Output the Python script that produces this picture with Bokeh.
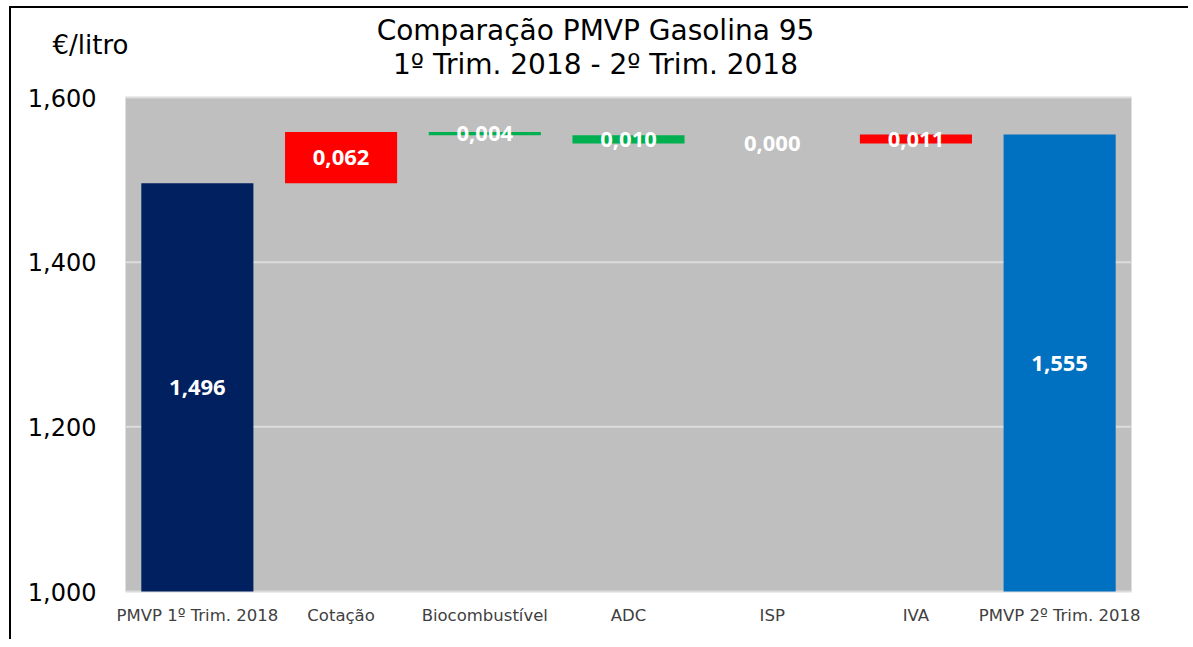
from bokeh.plotting import figure
from bokeh.models import ColumnDataSource, FixedTicker, Label, Range1d
from bokeh.core.properties import value
from bokeh.embed import file_html
from bokeh.resources import INLINE

# ---- data ----
categories = ["PMVP 1º Trim. 2018", "Cotação", "Biocombustível", "ADC", "ISP", "IVA", "PMVP 2º Trim. 2018"]
changes = [1.496, 0.062, -0.004, -0.010, 0.000, 0.011, 1.555]
kinds = ["start", "delta", "delta", "delta", "delta", "delta", "end"]
y_ticks = [1.0, 1.2, 1.4, 1.6]
title_line1 = "Comparação PMVP Gasolina 95"
title_line2 = "1º Trim. 2018 - 2º Trim. 2018"
unit_label = "€/litro"

# ---- waterfall geometry from data ----
xs = list(range(len(categories)))
bottoms, tops, colors, labels, mids = [], [], [], [], []
run = 0.0
axis_start = y_ticks[0]
for k, c in zip(kinds, changes):
    if k == "start":
        b, t = axis_start, c
        run = c
        col = "#002060"
    elif k == "end":
        b, t = axis_start, c
        col = "#0070C0"
    else:
        b, t = run, run + c
        run = run + c
        col = "#FF0000" if c > 0 else "#00B050"
    lo, hi = min(b, t), max(b, t)
    bottoms.append(lo)
    tops.append(hi)
    colors.append(col)
    mids.append((lo + hi) / 2)
    labels.append(f"{abs(c):.3f}".replace(".", ","))

src = ColumnDataSource(dict(x=xs, bottom=bottoms, top=tops, color=colors,
                            mid=mids, label=labels))

# plot area (grey) spans categories -0.5 .. n-0.5 ; extra room around it for texts
n = len(categories)
px_per_cat = 1006 / n
px_per_unit = 494 / (y_ticks[-1] - y_ticks[0])
x_left = -0.5 - 114 / px_per_cat
x_right = n - 0.5 + 36 / px_per_cat
y_top = y_ticks[-1] + 89 / px_per_unit
y_bottom = y_ticks[0] - 48 / px_per_unit

p = figure(x_range=Range1d(x_left, x_right), y_range=Range1d(y_bottom, y_top),
           frame_width=1156, frame_height=631,
           min_border_left=0, min_border_top=0, min_border_right=21, min_border_bottom=0,
           output_backend="svg", toolbar_location=None)
p.styles = {"border-top": "2px solid black", "border-left": "2px solid black",
            "margin-top": "6px", "margin-left": "9px"}

p.background_fill_color = "white"
p.border_fill_color = "white"
p.outline_line_color = None
p.xgrid.grid_line_color = None
p.ygrid.grid_line_color = None

# grey plot area
p.quad(left=[-0.5], right=[n - 0.5], bottom=[y_ticks[0]], top=[y_ticks[-1]],
       fill_color="#BFBFBF", line_color=None)
# gridlines
p.segment(x0=[-0.5] * len(y_ticks), x1=[n - 0.5] * len(y_ticks), y0=y_ticks, y1=y_ticks,
          line_color="#DCDCDC", line_width=2)

p.vbar(x="x", bottom="bottom", top="top", width=0.78, fill_color="color",
       line_color=None, source=src)
p.text(x="x", y="mid", text="label", source=src, text_color="white",
       text_font=value("Open Sans"), text_font_style="bold", text_font_size="22px",
       text_align="center", text_baseline="middle")

# y axis
p.yaxis.fixed_location = -0.5
p.yaxis.ticker = FixedTicker(ticks=y_ticks)
p.yaxis.major_label_overrides = {t: f"{t:.3f}".replace(".", ",") for t in y_ticks}
p.yaxis.major_label_text_font = "DejaVu Sans"
p.yaxis.major_label_text_font_size = "24px"
p.yaxis.major_label_text_color = "#000000"
p.yaxis.major_label_standoff = 23
p.yaxis.axis_line_color = None
p.yaxis.major_tick_line_color = None
p.yaxis.minor_tick_line_color = None

# x axis
p.xaxis.fixed_location = y_ticks[0]
p.xaxis.ticker = FixedTicker(ticks=xs)
p.xaxis.major_label_overrides = {i: c for i, c in zip(xs, categories)}
p.xaxis.major_label_text_font = "DejaVu Sans"
p.xaxis.major_label_text_font_size = "16.5px"
p.xaxis.major_label_text_color = "#404040"
p.xaxis.major_label_standoff = 8
p.xaxis.axis_line_color = None
p.xaxis.major_tick_line_color = None
p.xaxis.minor_tick_line_color = None

# titles (screen units relative to the frame: x from left, y from bottom)
p.add_layout(Label(x=584, y=609, x_units="screen", y_units="screen",
                   text=title_line1, text_font="DejaVu Sans",
                   text_font_size="28px", text_align="center", text_baseline="middle",
                   text_color="#000000"))
p.add_layout(Label(x=584, y=575, x_units="screen", y_units="screen",
                   text=title_line2, text_font="DejaVu Sans",
                   text_font_size="28px", text_align="center", text_baseline="middle",
                   text_color="#000000"))
p.add_layout(Label(x=41, y=595, x_units="screen", y_units="screen",
                   text=unit_label, text_font="DejaVu Sans",
                   text_font_size="26px", text_align="left", text_baseline="middle",
                   text_color="#000000"))

open("out.html", "w").write(file_html(p, INLINE))
